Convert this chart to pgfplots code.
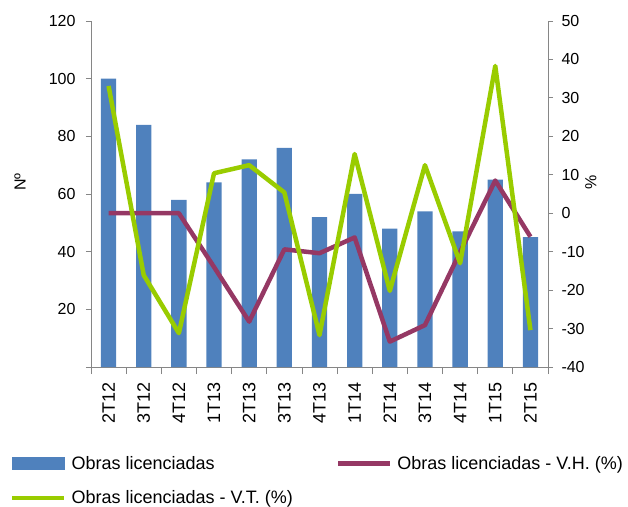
\documentclass[border=0pt]{standalone}
\usepackage{fontspec}
\setmainfont{Liberation Sans}
\usepackage{pgfplots}
\pgfplotsset{compat=1.18}
\definecolor{barblue}{HTML}{4F81BD}
\definecolor{vhpurple}{HTML}{953864}
\definecolor{vtgreen}{HTML}{99CC00}
\definecolor{axisgray}{HTML}{868686}
\begin{document}
\begin{tikzpicture}
\pgfplotsset{
  common/.style={
    scale only axis, width=457bp, height=346bp,
    xmin=-0.5, xmax=12.5,
    axis line style={draw=axisgray, line width=0.8bp, -},
    tick style={draw=axisgray, line width=0.8bp},
    tick align=outside,
    major tick length=5bp,
    minor tick length=7bp,
    /pgf/number format/assume math mode=true,
    yticklabel style={font=\fontsize{16bp}{19bp}\selectfont, text=black},
    label style={font=\fontsize{16bp}{19bp}\selectfont},
  }
}
\begin{axis}[common,
  name=ax1,
  ymin=0, ymax=120,
  axis y line*=left, axis x line*=bottom,
  ytick={0,20,40,60,80,100,120},
  yticklabels={{},20,40,60,80,100,120},
  yticklabel shift=7bp,
  xtick={0,...,12},
  xticklabels={2T12,3T12,4T12,1T13,2T13,3T13,4T13,1T14,2T14,3T14,4T14,1T15,2T15},
  xticklabel style={rotate=90, anchor=east, inner sep=0pt, font=\fontsize{18bp}{21bp}\selectfont},
  xticklabel shift=10bp,
  minor xtick={-0.5,0.5,...,12.5},
  major x tick style={draw=none},
  ylabel={Nº},
  ylabel style={at={(axis description cs:-0.1554,0.5347)}, anchor=center},
]
\addplot[ybar, bar width=15.3bp, fill=barblue, draw=none] coordinates {
(0,100) (1,84) (2,58) (3,64) (4,72) (5,76) (6,52) (7,60) (8,48) (9,54) (10,47) (11,65) (12,45)};
\end{axis}
\begin{axis}[common,
  ymin=-40, ymax=50,
  axis y line*=right, axis x line=none,
  ytick={-40,-30,...,50},
  yticklabels={-40,-30,-20,-10,0,10,20,30,40,50},
  yticklabel shift=5bp,
  ylabel={\%},
  ylabel style={at={(axis description cs:1.094,0.5347)}, anchor=center, rotate=0},
  legend columns=2,
  legend style={
    at={(axis description cs:-0.1772,-0.2572)}, anchor=north west,
    draw=none, fill=none, inner sep=0pt, outer sep=0pt,
    row sep=20bp,
    font=\fontsize{18bp}{21bp}\selectfont,
    nodes={inner sep=0pt, anchor=west},
    /tikz/every odd column/.append style={column sep=5bp},
    /tikz/every even column/.append style={column sep=43bp},
  },
  legend cell align=left,
]
\addlegendimage{legend image code/.code={\fill[barblue] (0bp,-5.6bp) rectangle (52bp,5.6bp);}}
\addlegendentry{Obras licenciadas}
\addplot[vhpurple, line width=4.5bp, line join=round,
  legend image code/.code={\draw[vhpurple, line width=4.5bp] (0bp,0bp) -- (52bp,0bp);}] coordinates {
(0,0) (1,0) (2,0) (3,-14) (4,-28.2) (5,-9.4) (6,-10.4) (7,-6.3) (8,-33.4) (9,-29.1) (10,-10.1) (11,8.5) (12,-6.1)};
\addlegendentry{Obras licenciadas - V.H. (\%)}
\addplot[vtgreen, line width=4.5bp, line join=round,
  legend image code/.code={\draw[vtgreen, line width=4.5bp] (0bp,0bp) -- (52bp,0bp);}] coordinates {
(0,33.1) (1,-16.1) (2,-31.2) (3,10.4) (4,12.5) (5,5.4) (6,-31.7) (7,15.4) (8,-20.2) (9,12.5) (10,-13) (11,38.3) (12,-30.4)};
\addlegendentry{Obras licenciadas - V.T. (\%)}
\end{axis}
\pgfresetboundingbox
\useasboundingbox (-91bp,-140bp) rectangle (537bp,367bp);
\end{tikzpicture}
\end{document}
